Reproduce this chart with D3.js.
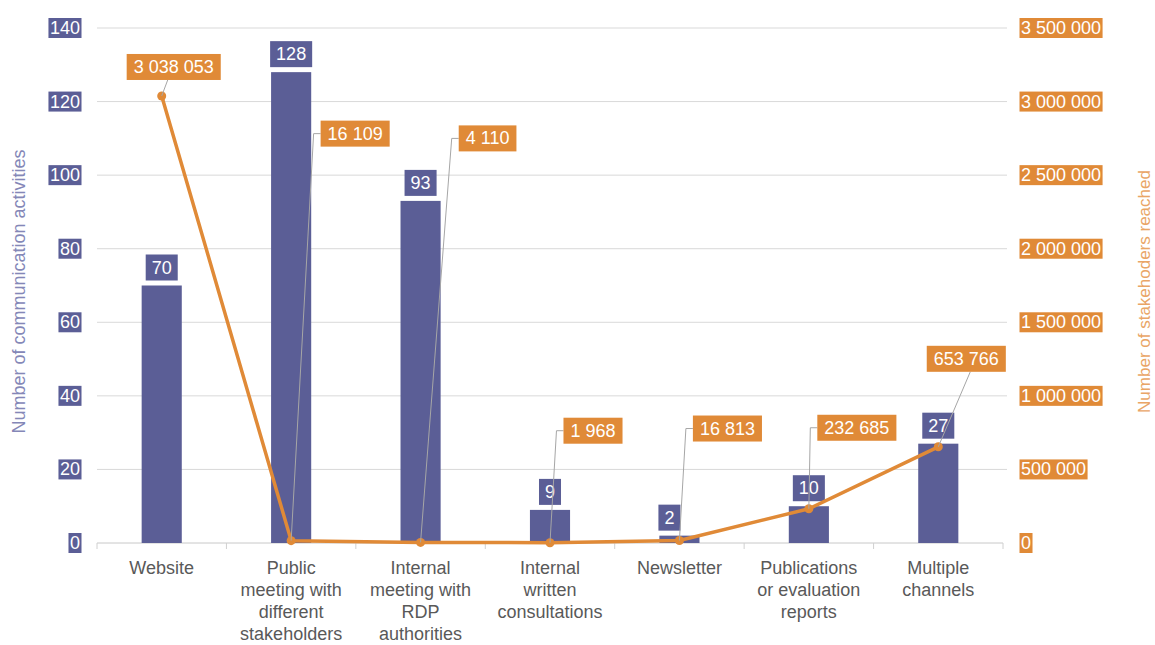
<!DOCTYPE html>
<html><head><meta charset="utf-8">
<script src="https://cdn.jsdelivr.net/npm/d3@7"></script>
<style>
body{margin:0;background:#fff}
svg{display:block}
text{font-family:"Liberation Sans",Arial,sans-serif}
</style>
</head><body>
<svg id="c" width="1155" height="645"></svg>
<script>
// ---- data ----
const categories = ["Website","Public\nmeeting with\ndifferent\nstakeholders","Internal\nmeeting with\nRDP\nauthorities","Internal\nwritten\nconsultations","Newsletter","Publications\nor evaluation\nreports","Multiple\nchannels"];
const activities = [70,128,93,9,2,10,27];
const stakeholders = [3038053,16109,4110,1968,16813,232685,653766];
const leftTicks = [0,20,40,60,80,100,120,140];
const rightTicks = [0,500000,1000000,1500000,2000000,2500000,3000000,3500000];
const leftTitle = "Number of communication activities";
const rightTitle = "Number of stakehoders reached";

// ---- layout (annotation placement, px offsets from the point) ----
const lineLabelLayout = [
  {dx:12,dy:-29,type:"bottom",lx:-6},
  {dx:64,dy:-407,type:"elbow"},
  {dx:67,dy:-404,type:"elbow"},
  {dx:43,dy:-112,type:"elbow"},
  {dx:48,dy:-112,type:"elbow"},
  {dx:48,dy:-81,type:"elbow"},
  {dx:28,dy:-88,type:"bottom",lx:4}
];
const barLabelDx = [0,0,0,0,-10,0,0];

const BLUE="#5b5e96", ORANGE="#e08a37", LEFTTITLE="#8487b7", RIGHTTITLE="#e9a566";

const svg = d3.select("#c");
const M = {left:97,right:1003,top:28,bottom:543};
const x = d3.scaleBand().domain(d3.range(categories.length)).range([M.left,M.right]);
const y = d3.scaleLinear().domain([0,140]).range([M.bottom,M.top]);
const y2 = d3.scaleLinear().domain([0,3500000]).range([M.bottom,M.top]);
const fmt = d3.formatLocale({decimal:".",thousands:"\u00a0",grouping:[3],currency:["",""]}).format(",d");

// gridlines
svg.append("g").selectAll("line").data(leftTicks.filter(d=>d>0)).join("line")
  .attr("x1",M.left).attr("x2",M.right+4).attr("y1",d=>y(d)).attr("y2",d=>y(d))
  .attr("stroke","#d9d9d9").attr("stroke-width",1);

// x axis line + ticks
const xa = svg.append("g").attr("transform",`translate(0,${M.bottom})`)
  .call(d3.axisBottom(x).tickSize(0).tickFormat(""));
xa.select(".domain").attr("stroke","#c8c8c8").attr("d",`M${M.left},0H${M.right}`);
svg.append("g").selectAll("line").data(d3.range(categories.length+1)).join("line")
  .attr("x1",i=>M.left+i*x.step()).attr("x2",i=>M.left+i*x.step())
  .attr("y1",M.bottom).attr("y2",M.bottom+6).attr("stroke","#d0d0d0");

// category labels
const cl = svg.append("g").selectAll("text").data(categories).join("text")
  .attr("text-anchor","middle").attr("font-size",18).attr("fill","#595959")
  .attr("x",(d,i)=>x(i)+x.bandwidth()/2).attr("y",574);
cl.selectAll("tspan").data(d=>d.split("\n")).join("tspan")
  .attr("x",function(){return this.parentNode.getAttribute("x");})
  .attr("dy",(d,i)=>i?22:0).text(d=>d);

// boxed text helper
function boxText(g, txt, cx, cy, anchor, fill, fs, padX, h){
  const t = g.append("text").attr("font-size",fs).attr("fill","#fff")
    .attr("dominant-baseline","central").attr("text-anchor",anchor)
    .attr("x",cx).attr("y",cy).text(txt);
  const b = t.node().getBBox();
  g.insert("rect","text:last-of-type").attr("x",b.x-padX).attr("y",cy-h/2)
    .attr("width",b.width+2*padX).attr("height",h).attr("fill",fill);
  return {x:b.x-padX,w:b.width+2*padX,h};
}

// left axis ticks
leftTicks.forEach(v=>{
  const g = svg.append("g");
  boxText(g, String(v), 80, y(v), "end", BLUE, 18, 1.5, 20);
});
// right axis ticks
rightTicks.forEach(v=>{
  const g = svg.append("g");
  boxText(g, fmt(v), 1021, y2(v), "start", ORANGE, 18, 1.5, 20);
});

// axis titles
svg.append("text").attr("transform",`translate(25,${(M.top+M.bottom)/2+6}) rotate(-90)`)
  .attr("text-anchor","middle").attr("font-size",18).attr("fill",LEFTTITLE).text(leftTitle);
svg.append("text").attr("transform",`translate(1150,${(M.top+M.bottom)/2+6}) rotate(-90)`)
  .attr("text-anchor","middle").attr("font-size",17).attr("fill",RIGHTTITLE).text(rightTitle);

// bars
const bw = x.bandwidth()*0.31;
svg.append("g").selectAll("rect").data(activities).join("rect")
  .attr("x",(d,i)=>x(i)+x.bandwidth()/2-bw/2).attr("width",bw)
  .attr("y",d=>y(d)).attr("height",d=>M.bottom-y(d)).attr("fill",BLUE);

// bar labels
activities.forEach((v,i)=>{
  const g = svg.append("g");
  boxText(g, String(v), x(i)+x.bandwidth()/2+barLabelDx[i], y(v)-18, "middle", BLUE, 18, 6, 26);
});

// line
const cx = i=>x(i)+x.bandwidth()/2;
svg.append("path").datum(stakeholders)
  .attr("d",d3.line().x((d,i)=>cx(i)).y(d=>y2(d)))
  .attr("fill","none").attr("stroke",ORANGE).attr("stroke-width",3.5).attr("stroke-linejoin","round");
svg.append("g").selectAll("circle").data(stakeholders).join("circle")
  .attr("cx",(d,i)=>cx(i)).attr("cy",d=>y2(d)).attr("r",4.5).attr("fill",ORANGE);

// line labels with leaders
stakeholders.forEach((v,i)=>{
  const L = lineLabelLayout[i];
  const px = cx(i), py = y2(v);
  const bx = px+L.dx, by = py+L.dy;
  const lead = svg.append("path").attr("fill","none").attr("stroke","#a6a6a6").attr("stroke-width",1);
  const g = svg.append("g");
  const r = boxText(g, fmt(v), bx, by, "middle", ORANGE, 18, 7, 26);
  if(L.type==="elbow"){
    lead.attr("d",`M${px},${py}L${r.x-7},${by}H${r.x}`);
  } else {
    lead.attr("d",`M${px},${py}L${bx+L.lx},${by+r.h/2}`);
  }
});
</script>
</body></html>
